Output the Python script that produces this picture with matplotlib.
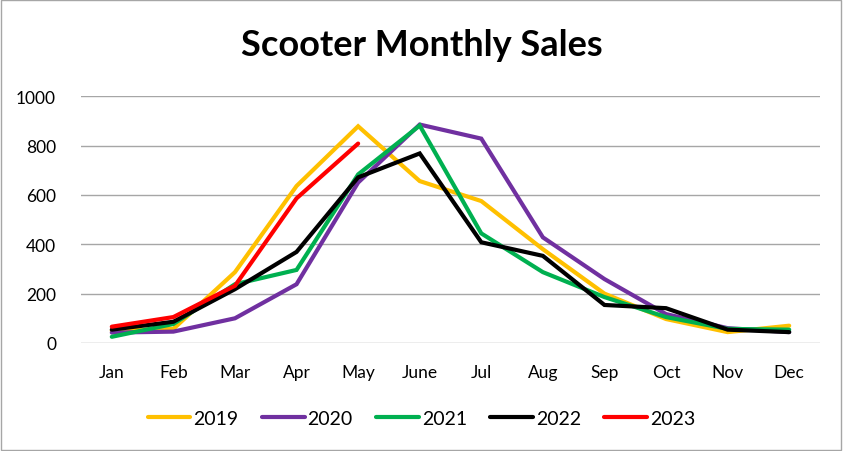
#!/usr/bin/env python3
"""Scooter monthly sales, one line per year."""

import matplotlib
matplotlib.use("Agg")
import matplotlib.pyplot as plt
from matplotlib.patches import Rectangle

plt.rcParams["font.family"] = ["Lato", "DejaVu Sans"]

MONTHS = ["Jan", "Feb", "Mar", "Apr", "May", "June",
          "Jul", "Aug", "Sep", "Oct", "Nov", "Dec"]

SALES_2019 = [50, 57, 287, 636, 878, 656, 575, 380, 200, 97, 44, 70]
SALES_2020 = [42, 46, 100, 238, 650, 885, 828, 428, 259, 117, 60, 44]
SALES_2021 = [25, 77, 238, 296, 683, 881, 444, 287, 186, 105, 57, 54]
SALES_2022 = [54, 86, 218, 369, 671, 768, 408, 353, 154, 141, 54, 44]
SALES_2023 = [66, 105, 232, 586, 808]

SERIES = [
    ("2019", SALES_2019, "#FFC000"),
    ("2020", SALES_2020, "#7030A0"),
    ("2021", SALES_2021, "#00B050"),
    ("2022", SALES_2022, "#000000"),
    ("2023", SALES_2023, "#FF0000"),
]


def main() -> None:
    fig = plt.figure(figsize=(8.43, 4.52), dpi=100)
    ax = fig.add_axes([0.0961, 0.239, 0.8766, 0.546])

    for label, values, color in SERIES:
        ax.plot(range(len(values)), values, color=color, linewidth=3,
                label=label, solid_capstyle="round", solid_joinstyle="miter")

    ax.set_xlim(-0.5, len(MONTHS) - 0.5)
    ax.set_ylim(0, 1000)
    ax.set_yticks(range(0, 1001, 200))
    ax.set_xticks(range(len(MONTHS)))
    ax.set_xticklabels(MONTHS)
    ax.tick_params(length=0, labelsize=12.5, colors="#000000")
    ax.tick_params(axis="x", pad=15)
    ax.tick_params(axis="y", pad=18)
    ax.grid(axis="y", color="#A6A6A6", linewidth=1)
    ax.set_axisbelow(True)
    for spine in ax.spines.values():
        spine.set_visible(False)

    fig.text(0.5, 0.9, "Scooter Monthly Sales", ha="center", va="center",
             fontsize=26, fontweight="bold")

    fig.legend(loc="center", bbox_to_anchor=(0.5, 0.073), ncol=5,
               frameon=False, fontsize=14, handlelength=2.2,
               handletextpad=0.15, columnspacing=1.2)

    fig.patches.append(Rectangle((0.001, 0.002), 0.997, 0.996,
                                 transform=fig.transFigure, fill=False,
                                 edgecolor="#A6A6A6", linewidth=1))

    fig.savefig("out.png", dpi=100)
    plt.close(fig)


if __name__ == "__main__":
    main()
